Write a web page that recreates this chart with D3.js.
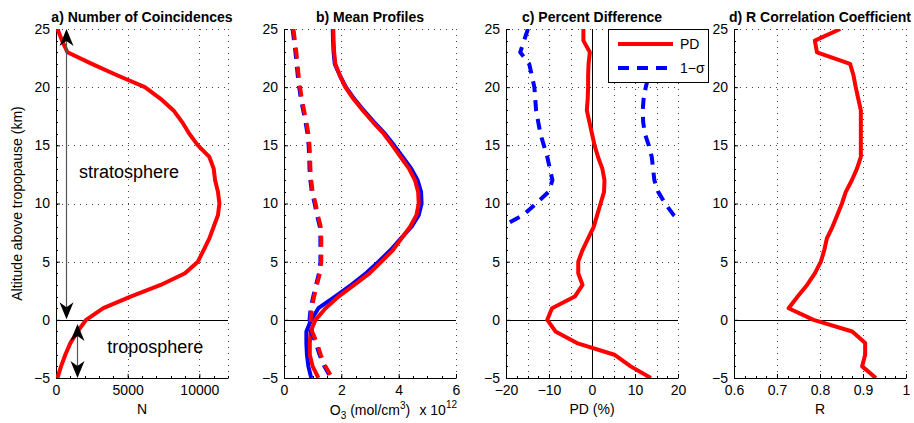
<!DOCTYPE html>
<html><head><meta charset="utf-8">
<script src="https://cdn.jsdelivr.net/npm/d3@7"></script>
<style>body{margin:0;background:#fff} svg{display:block;font-family:"Liberation Sans",Arial,Helvetica,sans-serif}</style>
</head><body><svg id="chart" width="914" height="423"></svg>
<script>
// ---------------- data ----------------
const altKm = [25,24,23,22,21,20,19,18,17,16,15,14,13,12,11,10,9,8,7,6,5,4,3,2,1,0,-1,-2,-3,-4,-5];
const coincidences = [100,420,800,2500,4300,6200,7300,8200,8800,9300,9900,10700,11000,11100,11300,11400,11300,11000,10700,10300,9900,9000,7300,5200,3300,2100,1500,1000,650,350,100];
const o3RedMean  = [1.72,1.73,1.75,1.79,1.95,2.14,2.42,2.75,3.10,3.48,3.78,4.07,4.36,4.57,4.68,4.70,4.62,4.40,4.10,3.80,3.40,2.98,2.45,1.90,1.45,1.10,0.93,0.90,0.90,1.00,1.20];
const o3BlueMean = [1.70,1.71,1.73,1.77,1.95,2.16,2.45,2.78,3.14,3.52,3.84,4.14,4.44,4.66,4.78,4.80,4.70,4.45,4.08,3.72,3.30,2.86,2.35,1.78,1.20,0.95,0.78,0.78,0.80,0.85,0.95];
const o3RedStd   = [0.33,0.38,0.43,0.47,0.51,0.56,0.62,0.70,0.78,0.85,0.89,0.91,0.92,0.95,1.00,1.10,1.18,1.28,1.30,1.30,1.30,1.25,1.15,1.05,0.97,0.93,0.98,1.15,1.28,1.45,1.68];
const o3BlueStd  = [0.30,0.35,0.40,0.44,0.48,0.53,0.59,0.67,0.75,0.82,0.86,0.88,0.89,0.92,0.97,1.07,1.15,1.25,1.27,1.27,1.27,1.22,1.12,1.02,0.93,0.89,0.94,1.11,1.24,1.41,1.64];
const pdValues   = [-2.0,-2.0,-0.5,-0.8,-0.9,-0.9,-1.0,-1.2,-0.6,0.0,0.6,1.4,2.4,2.9,2.8,2.0,1.2,0.4,-0.9,-2.2,-3.2,-3.2,-2.2,-4.0,-9.3,-10.4,-8.5,-3.5,5.2,9.0,13.7];
const sigmaAlt   = [25,24,23,22,21,20,19,18,17,16,15,14,13,12,11,10,9,8];
const sigmaLow   = [-14.9,-15.8,-16.7,-14.6,-14.0,-13.4,-13.2,-13.0,-12.5,-12.0,-11.2,-10.4,-9.8,-9.2,-10.1,-13.0,-16.0,-21.0];
const sigmaHigh  = [14.0,15.0,16.5,14.5,13.2,12.5,12.0,11.8,11.9,12.3,13.2,13.9,14.2,14.5,15.4,17.0,19.0,22.0];
const rValues    = [0.847,0.788,0.793,0.870,0.878,0.883,0.889,0.895,0.895,0.895,0.895,0.895,0.886,0.874,0.860,0.851,0.840,0.829,0.816,0.810,0.802,0.788,0.770,0.748,0.727,0.785,0.875,0.905,0.905,0.898,0.930];

// ticks / labels
const yTicks  = [-5,0,5,10,15,20,25];
const nTicks  = [0,5000,10000];
const o3Ticks = [0,2,4,6];
const pdTicks = [-20,-10,0,10,20];
const rTicks  = [0.6,0.7,0.8,0.9,1];
const nGrid  = [5000,10000,12000];
const o3Grid = [2,4,6];
const pdGrid = [-15,-10,-5,5,10,15,20];
const rGrid  = [0.7,0.8,0.9,1];
const titles  = ["a) Number of Coincidences","b) Mean Profiles","c) Percent Difference","d) R Correlation Coefficient"];
const xLabels = ["N","","PD (%)","R"];
const yLabel  = "Altitude above tropopause (km)";
const legendLabels = ["PD","1\u2212\u03c3"];
const arrowN = [700, 1470];
const arrowSpan = [[0.05,25],[-5,-0.35]];
const regionLabels = [{t:"stratosphere", n:1600, km:12.2},{t:"troposphere", n:3580, km:-2.85}];

// ---------------- layout ----------------
const svg = d3.select("#chart");
const TOP = 29, BOT = 378, PW = 172;
const y = d3.scaleLinear().domain([-5,25]).range([BOT, TOP]);
const RED = "#ff0000", BLUE = "#0000ff";

const panels = [
  {left:56,  domain:[0,12000], ticks:nTicks, grid:nGrid, minor:1000, fmt:d3.format("d")},
  {left:284, domain:[0,6],     ticks:o3Ticks, grid:o3Grid, minor:0.5, fmt:d3.format("d")},
  {left:506, domain:[-20,20],  ticks:pdTicks, grid:pdGrid, minor:2.5, fmt:d3.format("d")},
  {left:734, domain:[0.6,1],   ticks:rTicks, grid:rGrid, minor:0.025, fmt:d3.format("~g")}
];

panels.forEach((p,i)=>{
  p.x = d3.scaleLinear().domain(p.domain).range([p.left, p.left+PW]);
  const g = svg.append("g");
  p.g = g;
  svg.append("clipPath").attr("id","clip"+i).append("rect")
    .attr("x",p.left).attr("y",TOP).attr("width",PW).attr("height",BOT-TOP);
  const grid = g.append("g").attr("stroke","#444").attr("stroke-width",1).attr("stroke-dasharray","1,5").attr("fill","none");
  yTicks.filter(t=>t!==0 && t!==-5).forEach(t=>{
    grid.append("line").attr("x1",p.left).attr("x2",p.left+PW).attr("y1",Math.round(y(t))+0.5).attr("y2",Math.round(y(t))+0.5);
  });
  p.grid.forEach(v=>{
    grid.append("line").attr("x1",Math.round(p.x(v))+0.5).attr("x2",Math.round(p.x(v))+0.5).attr("y1",TOP).attr("y2",BOT);
  });
  g.append("line").attr("x1",p.left).attr("x2",p.left+PW).attr("y1",Math.round(y(0))+0.5).attr("y2",Math.round(y(0))+0.5)
    .attr("stroke","#000").attr("stroke-width",1);
  const mt = g.append("g").attr("stroke","#000").attr("stroke-width",1);
  d3.range(-5,25.001,1).forEach(t=>{
    mt.append("line").attr("x1",p.left).attr("x2",p.left+2).attr("y1",Math.round(y(t))+0.5).attr("y2",Math.round(y(t))+0.5);
  });
  d3.range(p.domain[0],p.domain[1]+p.minor*0.01,p.minor).forEach(v=>{
    mt.append("line").attr("x1",Math.round(p.x(v))+0.5).attr("x2",Math.round(p.x(v))+0.5).attr("y1",BOT).attr("y2",BOT-2);
  });
  const ax = g.append("g").attr("transform",`translate(${p.left},0)`)
    .call(d3.axisLeft(y).tickValues(yTicks).tickSizeInner(-4).tickSizeOuter(0).tickPadding(6).tickFormat(d3.format("d")));
  const bx = g.append("g").attr("transform",`translate(0,${BOT})`)
    .call(d3.axisBottom(p.x).tickValues(p.ticks).tickSizeInner(-4).tickSizeOuter(0).tickPadding(7).tickFormat(p.fmt));
  [ax,bx].forEach(a=>{
    a.selectAll("text").attr("font-size",14).attr("fill","#000").attr("font-family","Liberation Sans, Arial, sans-serif");
    a.selectAll("line,path").attr("stroke","#000");
  });
  svg.append("text").attr("x",p.left+PW/2).attr("y",22).attr("text-anchor","middle")
    .attr("font-size",14).attr("font-weight","bold").text(titles[i]);
  if (xLabels[i]) svg.append("text").attr("x",p.left+PW/2).attr("y",414).attr("text-anchor","middle")
    .attr("font-size",14).text(xLabels[i]);
});

svg.append("text").attr("transform",`translate(22,${(TOP+BOT)/2}) rotate(-90)`).attr("text-anchor","middle")
  .attr("font-size",14).text(yLabel);

const pb = panels[1];
const xl = svg.append("text").attr("x",pb.left+PW/2).attr("y",415).attr("text-anchor","middle").attr("font-size",14);
xl.append("tspan").text("O");
xl.append("tspan").attr("dy",4).attr("font-size",10).text("3");
xl.append("tspan").attr("dy",-4).text(" (mol/cm");
xl.append("tspan").attr("dy",-6).attr("font-size",10).text("3");
xl.append("tspan").attr("dy",6).text(")");
const ex = svg.append("text").attr("x",pb.left+PW+1).attr("y",415).attr("text-anchor","end").attr("font-size",14);
ex.append("tspan").text("x 10");
ex.append("tspan").attr("dy",-7).attr("font-size",10).text("12");

// ---------------- series ----------------
function drawLine(p, i, alts, vals, color, dashed){
  const line = d3.line().x((d,k)=>p.x(vals[k])).y((d,k)=>y(alts[k]));
  p.g.append("path").datum(alts).attr("d",line).attr("clip-path",`url(#clip${i})`)
    .attr("fill","none").attr("stroke",color).attr("stroke-width",4)
    .attr("stroke-linejoin","round").attr("stroke-dasharray",dashed?"11,8":null);
}
drawLine(panels[0],0,altKm,coincidences,RED,false);
drawLine(panels[1],1,altKm,o3BlueMean,BLUE,false);
drawLine(panels[1],1,altKm,o3RedMean,RED,false);
drawLine(panels[1],1,altKm,o3BlueStd,BLUE,true);
drawLine(panels[1],1,altKm,o3RedStd,RED,true);
const pc = panels[2];
pc.g.append("line").attr("x1",Math.round(pc.x(0))+0.5).attr("x2",Math.round(pc.x(0))+0.5).attr("y1",TOP).attr("y2",BOT).attr("stroke","#000");
drawLine(pc,2,sigmaAlt,sigmaLow,BLUE,true);
drawLine(pc,2,sigmaAlt,sigmaHigh,BLUE,true);
drawLine(pc,2,altKm,pdValues,RED,false);
drawLine(panels[3],3,altKm,rValues,RED,false);

// ---------------- annotations (panel a) ----------------
const pa = panels[0];
function head(xp, yp, dir){
  const L=17, Wd=7, N=12;
  return `M${xp},${yp} L${xp-Wd},${yp-dir*L} L${xp},${yp-dir*N} L${xp+Wd},${yp-dir*L} Z`;
}
arrowN.forEach((n,k)=>{
  const xp = Math.round(pa.x(n))+0.5;
  const y1 = y(arrowSpan[k][1]), y2 = y(arrowSpan[k][0]);
  svg.append("line").attr("x1",xp).attr("x2",xp).attr("y1",y1+6).attr("y2",y2-6).attr("stroke","#555").attr("stroke-width",1.2);
  svg.append("path").attr("d",head(xp,y1,-1)).attr("fill","#000");
  svg.append("path").attr("d",head(xp,y2,1)).attr("fill","#000");
});
regionLabels.forEach(r=>{
  svg.append("text").attr("x",pa.x(r.n)).attr("y",y(r.km)).attr("font-size",18).text(r.t);
});

// ---------------- legend (panel c) ----------------
const lg = svg.append("g");
lg.append("rect").attr("x",608.5).attr("y",29.5).attr("width",100).attr("height",53).attr("fill","#fff").attr("stroke","#000");
lg.append("line").attr("x1",618).attr("x2",673).attr("y1",44).attr("y2",44).attr("stroke",RED).attr("stroke-width",4);
lg.append("line").attr("x1",618).attr("x2",673).attr("y1",68).attr("y2",68).attr("stroke",BLUE).attr("stroke-width",4).attr("stroke-dasharray","11,8");
lg.append("text").attr("x",680).attr("y",49).attr("font-size",14).text(legendLabels[0]);
lg.append("text").attr("x",680).attr("y",73).attr("font-size",14).text(legendLabels[1]);
</script>
</body></html>
